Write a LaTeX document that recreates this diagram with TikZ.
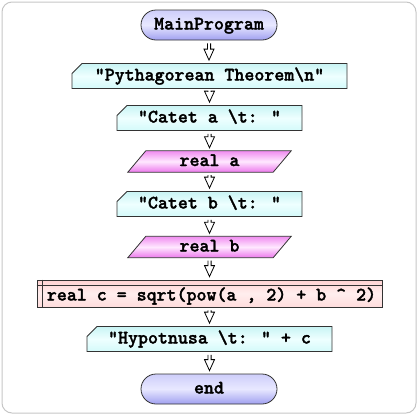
\documentclass[tikz,border=0pt]{standalone}
\usepackage{fontspec}
\usetikzlibrary{shapes.misc,calc,backgrounds}
\newfontfamily\flowfont{lmmonolt10-bold.otf}[FakeBold=1.6]
\definecolor{termtop}{RGB}{206,206,250}
\definecolor{termmid}{RGB}{232,232,255}
\definecolor{termbot}{RGB}{160,160,240}
\definecolor{outtop}{RGB}{200,244,244}
\definecolor{outmid}{RGB}{238,255,255}
\definecolor{outbot}{RGB}{212,250,250}
\definecolor{intop}{RGB}{240,140,240}
\definecolor{inmid}{RGB}{255,232,255}
\definecolor{inbot}{RGB}{236,120,236}
\definecolor{proctop}{RGB}{255,210,210}
\definecolor{procmid}{RGB}{255,238,238}
\definecolor{procbot}{RGB}{255,220,220}

\begin{document}
\begin{tikzpicture}[x=1pt,y=-1pt,
   every node/.style={font=\flowfont\fontsize{19}{22}\selectfont,text height=12pt,text depth=3pt},
   term/.style={rounded rectangle,draw=black!80,line width=0.8pt,top color=termtop,bottom color=termbot,middle color=termmid,minimum width=136,minimum height=30,inner sep=0pt},
   outbox/.style={chamfered rectangle,chamfered rectangle corners=north west,chamfered rectangle xsep=5pt,chamfered rectangle ysep=5pt,draw=black!80,line width=0.8pt,top color=outtop,bottom color=outbot,middle color=outmid,minimum height=20,inner sep=0pt},
   inbox/.style={minimum width=145,minimum height=21,inner sep=0pt},
   inshape/.style={draw=black!80,line width=0.8pt,top color=intop,bottom color=inbot,middle color=inmid},
   procbox/.style={rectangle,draw=black!80,line width=0.8pt,top color=proctop,bottom color=procbot,middle color=procmid,minimum width=345,minimum height=27,inner sep=0pt,text height=16pt,text depth=2pt},
   flow/.style={draw=black,line width=0.8pt,to path={let \p1=(\tikztostart), \p2=(\tikztotarget) in
      (\x1-1.6pt,\y1-3pt) -- (\x1-1.6pt,\y2+14pt) -- (\x1-5pt,\y2+14pt) -- (\x1,\y2+3pt)
      -- (\x1+5pt,\y2+14pt) -- (\x1+1.6pt,\y2+14pt) -- (\x1+1.6pt,\y1-3pt)}}]
  \useasboundingbox (0,0) rectangle (420,416);
  \draw[gray!45,line width=1pt,rounded corners=10pt] (2,2) rectangle (416,413);
  % flowchart blocks
  \node[term] (main) at (209,25) {MainProgram};
  \node[outbox,minimum width=275] (pyth) at (209.5,76) {"Pythagorean Theorem\textbackslash n"};
  \node[outbox,minimum width=185] (cata) at (209.5,118) {"Catet a \textbackslash t: "};
  \node[inbox] (reala) at (209.5,161.5) {real a};
  \node[outbox,minimum width=185] (catb) at (209.5,204) {"Catet b \textbackslash t: "};
  \node[inbox] (realb) at (209.5,247) {real b};
  \node[procbox] (proc) at (209.5,293.5) {\hspace*{4pt}real c = sqrt(pow(a , 2) + b \textasciicircum\ 2)};
  \node[outbox,minimum width=245] (hyp) at (209.5,339) {"Hypotnusa \textbackslash t: " + c};
  \node[term] (fin) at (209,389) {end};
  % input parallelograms
  \begin{scope}[on background layer]
    \foreach \n in {reala,realb}
      \draw[inshape] ($(\n.south west)+(-9,0)$) -- ($(\n.south east)+(-9,0)$)
        -- ($(\n.north east)+(9,0)$) -- ($(\n.north west)+(9,0)$) -- cycle;
  \end{scope}
  % process box rulings
  \draw[black!80,line width=0.8pt] ([xshift=6pt]proc.north west) -- ([xshift=6pt]proc.south west);
  \draw[black!80,line width=0.8pt] ([yshift=-6pt]proc.north west) -- ([yshift=-6pt]proc.north east);
  % connectors
  \draw[flow] (main.south) to (pyth.north);
  \draw[flow] (pyth.south) to (cata.north);
  \draw[flow] (cata.south) to (reala.north);
  \draw[flow] (reala.south) to (catb.north);
  \draw[flow] (catb.south) to (realb.north);
  \draw[flow] (realb.south) to (proc.north);
  \draw[flow] (proc.south) to (hyp.north);
  \draw[flow] (hyp.south) to (fin.north);
\end{tikzpicture}
\end{document}
